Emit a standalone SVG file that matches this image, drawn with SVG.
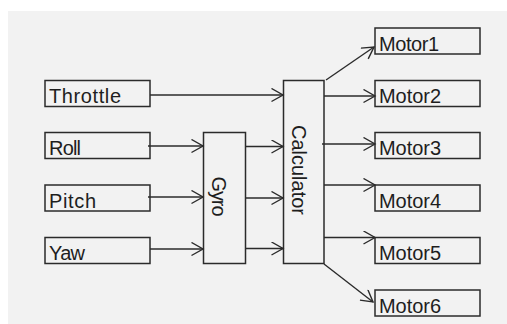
<svg xmlns="http://www.w3.org/2000/svg" width="507" height="324" viewBox="0 0 507 324">
  <style>
    .box { fill: #f2f2f2; stroke: #2b2b2b; stroke-width: 1.5; }
    .lbl { font-family: "Liberation Sans", Arial, sans-serif; font-size: 20px; fill: #1e1e1e; }
    .wire { fill: none; stroke: #2b2b2b; stroke-width: 1.4; marker-end: url(#arrow); }
  </style>
  <defs>
    <marker id="arrow" markerUnits="userSpaceOnUse" markerWidth="14" markerHeight="16" refX="12" refY="7" orient="auto">
      <path d="M0.5,0.5 L12,7 L0.5,13.5" fill="none" stroke="#2b2b2b" stroke-width="1.4"/>
    </marker>
  </defs>

  <!-- canvas -->
  <rect x="8" y="11" width="499" height="313" fill="#f2f2f2"/>

  <!-- inputs -->
  <g id="throttle">
    <rect class="box" x="45" y="80.5" width="105" height="26"/>
    <text class="lbl" x="49" y="103" textLength="72" lengthAdjust="spacing">Throttle</text>
  </g>
  <g id="roll">
    <rect class="box" x="45" y="132.5" width="105" height="26"/>
    <text class="lbl" x="49" y="155" textLength="32" lengthAdjust="spacing">Roll</text>
  </g>
  <g id="pitch">
    <rect class="box" x="45" y="185" width="105" height="26"/>
    <text class="lbl" x="49" y="207.5" textLength="47" lengthAdjust="spacing">Pitch</text>
  </g>
  <g id="yaw">
    <rect class="box" x="45" y="237.5" width="105" height="26"/>
    <text class="lbl" x="49" y="260" textLength="36" lengthAdjust="spacing">Yaw</text>
  </g>

  <!-- processing -->
  <g id="gyro">
    <rect class="box" x="203.5" y="132.5" width="42" height="131"/>
    <text class="lbl" transform="translate(211.5,176.5) rotate(90)" x="0" y="0" textLength="40" lengthAdjust="spacing">Gyro</text>
  </g>
  <g id="calculator">
    <rect class="box" x="283.5" y="80.5" width="40.5" height="183"/>
    <text class="lbl" transform="translate(291.5,125) rotate(90)" x="0" y="0" textLength="90" lengthAdjust="spacing">Calculator</text>
  </g>

  <!-- outputs -->
  <g id="motor1">
    <rect class="box" x="375" y="28" width="105" height="26"/>
    <text class="lbl" x="379" y="51" textLength="60" lengthAdjust="spacing">Motor1</text>
  </g>
  <g id="motor2">
    <rect class="box" x="375" y="80.5" width="105" height="26"/>
    <text class="lbl" x="379" y="103" textLength="62" lengthAdjust="spacing">Motor2</text>
  </g>
  <g id="motor3">
    <rect class="box" x="375" y="132.5" width="105" height="26"/>
    <text class="lbl" x="379" y="155" textLength="62" lengthAdjust="spacing">Motor3</text>
  </g>
  <g id="motor4">
    <rect class="box" x="375" y="185" width="105" height="26"/>
    <text class="lbl" x="379" y="207.5" textLength="62" lengthAdjust="spacing">Motor4</text>
  </g>
  <g id="motor5">
    <rect class="box" x="375" y="237.5" width="105" height="26"/>
    <text class="lbl" x="379" y="260" textLength="62" lengthAdjust="spacing">Motor5</text>
  </g>
  <g id="motor6">
    <rect class="box" x="375" y="290" width="105" height="26"/>
    <text class="lbl" x="379" y="312.5" textLength="62" lengthAdjust="spacing">Motor6</text>
  </g>

  <!-- connectors -->
  <g id="connectors">
    <path class="wire" d="M150,95 L283,95"/>
    <path class="wire" d="M148,146 L203,146"/>
    <path class="wire" d="M148,197 L203,197"/>
    <path class="wire" d="M150,249 L203,249"/>
    <path class="wire" d="M246,146.5 L283,146.5"/>
    <path class="wire" d="M246,198 L283,198"/>
    <path class="wire" d="M246,248.5 L283,248.5"/>
    <path class="wire" d="M326,80 L374,47"/>
    <path class="wire" d="M324,96 L375,96"/>
    <path class="wire" d="M322,144 L375,144"/>
    <path class="wire" d="M324,185 L375,185"/>
    <path class="wire" d="M324,237.5 L375,237.5"/>
    <path class="wire" d="M324,264 L373,302"/>
  </g>
</svg>
